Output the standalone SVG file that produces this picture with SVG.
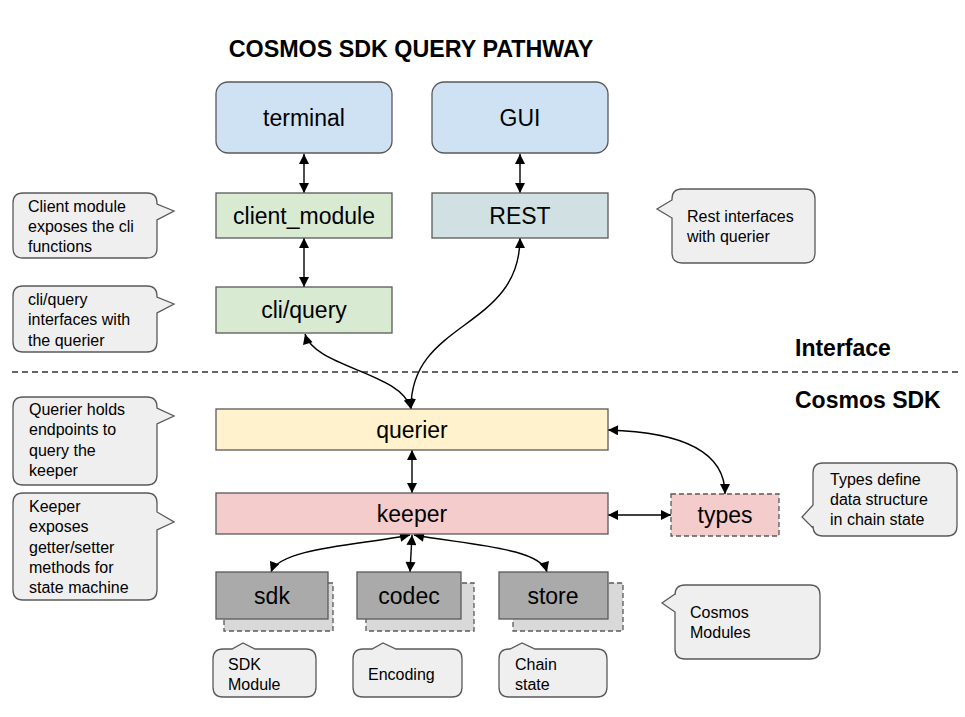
<svg xmlns="http://www.w3.org/2000/svg" width="965" height="717" viewBox="0 0 965 717">
<defs>
<marker id="ah" viewBox="0 0 10 10" refX="10" refY="5" markerWidth="11" markerHeight="10" markerUnits="userSpaceOnUse" orient="auto-start-reverse">
<path d="M0,0 L10,5 L0,10 Z" fill="#000"/>
</marker>
</defs>
<style>
.t{font-family:"Liberation Sans",Arial,sans-serif;fill:#000}
.lbl{font-size:23px;text-anchor:middle}
.hd{font-size:23px;font-weight:bold}
.c{font-size:16px}
.box{stroke:#595959;stroke-width:1.3}
.co{fill:#efefef;stroke:#595959;stroke-width:1.3}
.cn{fill:none;stroke:#000;stroke-width:1.4;marker-start:url(#ah);marker-end:url(#ah)}
.sh{fill:#d9d9d9;stroke:#595959;stroke-width:1.3;stroke-dasharray:5 3}
</style>
<rect width="965" height="717" fill="#fff"/>
<text class="t hd" x="411" y="57" text-anchor="middle" style="font-size:23.3px">COSMOS SDK QUERY PATHWAY</text>
<text class="t hd" x="795" y="356">Interface</text>
<text class="t hd" x="795" y="408">Cosmos SDK</text>
<line x1="12" y1="372" x2="962" y2="372" stroke="#333" stroke-width="1.3" stroke-dasharray="6 4"/>

<g id="connectors">
<line class="cn" x1="304" y1="154" x2="304" y2="193"/>
<line class="cn" x1="520" y1="154" x2="520" y2="193"/>
<line class="cn" x1="304" y1="238" x2="304" y2="287"/>
<path class="cn" d="M305,334 C315,368 402,372 411,409"/>
<path class="cn" d="M520,238 C520,330 410,320 411,409"/>
<line class="cn" x1="412" y1="450" x2="412" y2="493"/>
<path class="cn" d="M608,430 C680,432 725,450 725,494"/>
<line class="cn" x1="608" y1="515" x2="671" y2="515"/>
<path class="cn" d="M410,535 C360,545 280,548 271,572"/>
<line class="cn" x1="412" y1="535" x2="410" y2="572"/>
<path class="cn" d="M414,535 C470,545 540,548 547,572"/>
</g>

<g id="terminal"><rect class="box" x="216" y="82" width="176" height="71" rx="12" fill="#cfe2f3"/><text class="t lbl" x="304" y="126">terminal</text></g>
<g id="gui"><rect class="box" x="432" y="82" width="176" height="71" rx="12" fill="#cfe2f3"/><text class="t lbl" x="520" y="126">GUI</text></g>
<g id="client_module"><rect class="box" x="216" y="193" width="176" height="45" fill="#d9ead3"/><text class="t lbl" x="304" y="224">client_module</text></g>
<g id="rest"><rect class="box" x="432" y="193" width="176" height="45" fill="#d0e0e3"/><text class="t lbl" x="520" y="224">REST</text></g>
<g id="cli_query"><rect class="box" x="216" y="287" width="176" height="46" fill="#d9ead3"/><text class="t lbl" x="304" y="318">cli/query</text></g>
<g id="querier"><rect class="box" x="216" y="409" width="392" height="41" fill="#fff2cc"/><text class="t lbl" x="412" y="438">querier</text></g>
<g id="keeper"><rect class="box" x="216" y="493" width="392" height="41" fill="#f4cccc"/><text class="t lbl" x="412" y="522">keeper</text></g>
<g id="types"><rect class="box" x="671" y="494" width="108" height="42" fill="#f4cccc" stroke-dasharray="5 3"/><text class="t lbl" x="725" y="523">types</text></g>
<g id="sdk"><rect class="sh" x="224" y="583" width="109" height="48"/><rect class="box" x="216" y="572" width="112" height="47" fill="#aaaaaa"/><text class="t lbl" x="272" y="604">sdk</text></g>
<g id="codec"><rect class="sh" x="366" y="583" width="108" height="48"/><rect class="box" x="357" y="572" width="104" height="47" fill="#aaaaaa"/><text class="t lbl" x="409" y="604">codec</text></g>
<g id="store"><rect class="sh" x="513" y="583" width="110" height="48"/><rect class="box" x="499" y="572" width="109" height="47" fill="#aaaaaa"/><text class="t lbl" x="553" y="604">store</text></g>

<g id="note_client">
<path class="co" d="M23,193 H147 Q157,193 157,203 V204 L174,211 L157,220 V248 Q157,258 147,258 H23 Q13,258 13,248 V203 Q13,193 23,193 Z"/>
<text class="t c" x="28" y="212">Client module</text><text class="t c" x="28" y="232">exposes the cli</text><text class="t c" x="28" y="252">functions</text>
</g>
<g id="note_cli">
<path class="co" d="M23,286 H147 Q157,286 157,296 V297 L174,304 L157,313 V342 Q157,352 147,352 H23 Q13,352 13,342 V296 Q13,286 23,286 Z"/>
<text class="t c" x="28" y="305">cli/query</text><text class="t c" x="28" y="325">interfaces with</text><text class="t c" x="28" y="346">the querier</text>
</g>
<g id="note_querier">
<path class="co" d="M23,397 H147 Q157,397 157,407 V408 L174,416 L157,424 V475 Q157,485 147,485 H23 Q13,485 13,475 V407 Q13,397 23,397 Z"/>
<text class="t c" x="29" y="415">Querier holds</text><text class="t c" x="29" y="435">endpoints to</text><text class="t c" x="29" y="456">query the</text><text class="t c" x="29" y="476">keeper</text>
</g>
<g id="note_keeper">
<path class="co" d="M23,493 H147 Q157,493 157,503 V512 L174,522 L157,530 V590 Q157,600 147,600 H23 Q13,600 13,590 V503 Q13,493 23,493 Z"/>
<text class="t c" x="29" y="512">Keeper</text><text class="t c" x="29" y="532">exposes</text><text class="t c" x="29" y="553">getter/setter</text><text class="t c" x="29" y="573">methods for</text><text class="t c" x="29" y="593">state machine</text>
</g>
<g id="note_rest">
<path class="co" d="M682,189 H805 Q815,189 815,199 V253 Q815,263 805,263 H682 Q672,263 672,253 V218 L657,209 L672,200 V199 Q672,189 682,189 Z"/>
<text class="t c" x="687" y="222">Rest interfaces</text><text class="t c" x="687" y="242">with querier</text>
</g>
<g id="note_types">
<path class="co" d="M823,463 H947 Q957,463 957,473 V526 Q957,536 947,536 H823 Q813,536 813,526 V528 L802,517 L813,505 V473 Q813,463 823,463 Z"/>
<text class="t c" x="830" y="485">Types define</text><text class="t c" x="830" y="505">data structure</text><text class="t c" x="830" y="525">in chain state</text>
</g>
<g id="note_modules">
<path class="co" d="M685,585 H810 Q820,585 820,595 V649 Q820,659 810,659 H685 Q675,659 675,649 V612 L662,603 L675,594 V595 Q675,585 685,585 Z"/>
<text class="t c" x="690" y="618">Cosmos</text><text class="t c" x="690" y="638">Modules</text>
</g>
<g id="note_sdk">
<path class="co" d="M223,649 H232 L243,643 L255,649 H306 Q316,649 316,659 V687 Q316,697 306,697 H223 Q213,697 213,687 V659 Q213,649 223,649 Z"/>
<text class="t c" x="228" y="670">SDK</text><text class="t c" x="228" y="690">Module</text>
</g>
<g id="note_codec">
<path class="co" d="M363,649 H372 L383,643 L396,649 H452 Q462,649 462,659 V687 Q462,697 452,697 H363 Q353,697 353,687 V659 Q353,649 363,649 Z"/>
<text class="t c" x="368" y="680">Encoding</text>
</g>
<g id="note_store">
<path class="co" d="M509,649 H510 L522,643 L535,649 H597 Q607,649 607,659 V687 Q607,697 597,697 H509 Q499,697 499,687 V659 Q499,649 509,649 Z"/>
<text class="t c" x="515" y="670">Chain</text><text class="t c" x="515" y="690">state</text>
</g>
</svg>
